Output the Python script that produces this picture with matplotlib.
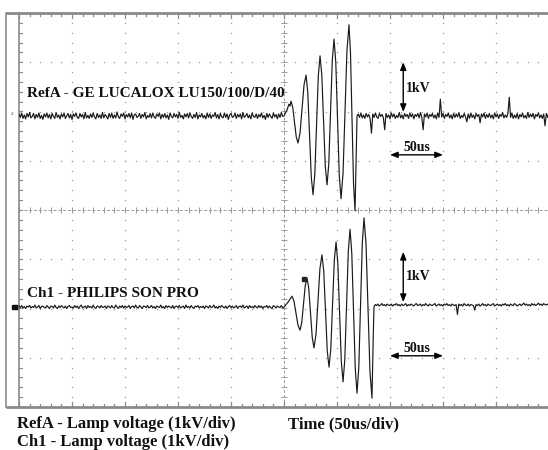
import numpy as np
import matplotlib
matplotlib.use("Agg")
import matplotlib.pyplot as plt

# ---------------- data (time in us relative to trigger, voltage in kV relative to trace baseline)
refA_burst_t = [0, 2.8, 4.7, 5.7, 6.6, 8.25, 9.9, 11.55, 13.2, 15.1, 17.0, 18.9, 20.8,
                22.45, 24.1, 25.75, 27.4, 29.05, 30.7, 32.35, 34.0, 35.65, 37.3, 38.95, 40.6,
                42.25, 43.9, 45.55, 47.2, 48.85, 50.5, 52.15, 53.8, 55.7, 57.55, 59.4, 61.3,
                62.7, 64.15, 65.6, 67.0, 67.6, 68.3, 68.9]
refA_burst_v = [0, 0.12, 0.24, 0.20, 0.30, 0.175, -0.125, -0.425, -0.55, -0.35, 0.14, 0.63,
                0.83, 0.475, -0.385, -1.245, -1.60, -1.19, -0.19, 0.81, 1.22, 0.84, -0.09,
                -1.02, -1.40, -0.97, 0.08, 1.13, 1.56, 1.09, -0.06, -1.21, -1.68, -1.16, 0.085,
                1.33, 1.85, 1.30, -0.04, -1.38, -1.93, -1.30, -0.50, 0]

ch1_burst_t = [0, 3.8, 7.5, 9.4, 11.3, 13.2, 15.1, 16.75, 18.4, 20.05, 21.7, 23.35, 25.0,
               26.65, 28.3, 30.2, 32.05, 33.9, 35.8, 37.5, 39.15, 40.8, 42.5, 44.15, 45.8,
               47.45, 49.1, 50.75, 52.4, 54.05, 55.7, 57.35, 59.0, 60.65, 62.3, 63.95, 65.6,
               67.25, 68.9, 70.55, 72.2, 73.85, 75.5, 77.4, 79.25, 81.1, 83.0, 83.6, 84.3, 84.9]
ch1_burst_v = [0, 0.10, 0.22, 0.12, -0.125, -0.37, -0.47, -0.315, 0.06, 0.435, 0.59, 0.38,
               -0.12, -0.62, -0.83, -0.55, 0.115, 0.78, 1.06, 0.73, -0.08, -0.89, -1.22, -0.85,
               0.05, 0.95, 1.32, 0.90, -0.10, -1.10, -1.52, -1.07, 0.03, 1.13, 1.58, 1.09,
               -0.085, -1.26, -1.75, -1.23, 0.03, 1.29, 1.81, 1.27, -0.02, -1.31, -1.85, -1.20,
               -0.50, 0]

# baseline noise (units of 10 V)
refA_noise_left = [
    4, -3, 6, -5, 2, -6, 5, -2, 7, -4, -1, 5, -6, 3, -3, 6, -5, 1, -7, 4,
    -2, 6, -4, 3, -6, 5, -1, -5, 7, -3, 2, -6, 4, -2, 6, -5, 0, 5, -4, 3,
    -7, 4, -1, 6, -3, -5, 5, -2, 3, -6, 7, -4, 1, -5, 4, -3, 6, -2, -6, 5,
    -3, 2, -5, 7, -4, 3, -1, -6, 5, -3, 6, -5, 2, -4, 8, -2, -5, 4, -1, 6,
    -6, 3, -2, 5, -4, 6, -7, 2, 4, -3, -1, 5, -5, 3, -2, 7, -6, 1, -3, 5,
    -4, 6, -2, -5, 4, -1, 6, -6, 3, -3, 5, -4, 2, -7, 6, -1, -4, 5, -2, 3,
    -5, 7, -3, 1, -6, 4, -2, 5, -4, 6, -1, -5, 3, -3, 7, -6, 2, -2, 5, -4,
    1, -6, 6, -3, 4, -5, 2, -1, 7, -4, 3, -6, 5, -2, -4, 6, -3, 4, -7, 2,
    5, -3, -1, 6, -5, 3, -2, 4, -6, 7, -3, 0, 5, -4, 2, -6, 6, -1, -3, 4,
    -5, 3, -2, 6, -4, 1, -7, 5, -3, 4, -1, -5, 6, -2, 3, -6, 4, -3, 7, -1]
refA_noise_right = [
    4, -3, 6, -4, 2, -5, 5, -2, 3, -6, -35, 4, -3, 6, -2, -5, 5, -1, 3, -4,
    -28, 5, -3, 2, -6, 6, -2, 4, -5, 1, -3, 7, -4, 2, -6, 5, -1, 3, -5, 6,
    -2, 4, -6, 3, -1, 5, -4, 7, -3, -28, 4, -2, 6, -5, 3, -1, 5, -4, 2, -6,
    6, -3, 34, -2, 5, -5, 3, -1, 6, -4, 2, -6, 5, -3, 4, -2, 7, -5, 1, -3,
    5, -2, -12, 4, -5, 6, -3, 2, -6, 5, -1, 3, -14, 4, -2, 6, -5, 3, -3, 5,
    -4, 2, -6, 6, -2, 4, -5, 3, -1, 7, -4, 2, -3, 5, 38, -3, 6, -5, 2, -4,
    5, -6, 3, -2, 6, -4, 1, -5, 7, -3, 4, -2, 5, -6, 3, -1, 6, -4, 2, -5,
    4, -20, 5, -3, 6]
ch1_noise_left = [
    2, -1, 3, -2, 1, -3, 2, 0, 3, -2, 1, -1, 4, -2, 0, 3, -3, 1, 2, -1,
    -2, 3, 0, -3, 2, 1, -2, 4, -1, -3, 2, -1, 3, 0, -2, 2, -3, 1, 3, -1,
    0, -2, 3, -1, 2, -3, 1, 4, -2, 0, 2, -3, 3, -1, 1, -2, 4, -1, -3, 2,
    1, -2, 3, -1, 0, 2, -3, 2, 1, -2, 3, -1, -2, 4, 0, -3, 2, -1, 3, -2,
    2, -1, 0, 3, -3, 1, 2, -2, 4, -1, -2, 3, 0, -3, 2, 1, -1, 3, -2, 0,
    3, -2, 1, -3, 2, 0, -1, 4, -2, 1, -3, 3, -1, 2, 0, -2, 3, -3, 1, 2,
    -1, 3, -2, 0, 2, -3, 4, -1, 1, -2, 3, -1, -3, 2, 0, 3, -2, 1, -1, 2,
    -3, 2, 1, -2, 3, -1, 0, 4, -2, 1, -3, 2, -1, 3, 0, -2, 2, -3, 1, 3,
    -1, 2, -2, 0, 3, -3, 1, 2, -1, 4, -2, 0, 2, -3, 3, -1, 1, -2, 3, 0,
    -2, 3, -1, 2, -3, 1, 0, 3, -2, 2, -1, -3, 3, 1, -2, 2, 0, -1, 3, -2]
ch1_noise_right = [
    5, 3, 6, 2, 4, 7, 3, 5, 2, 6, 4, 3, 6, 2, 5, 4, 7, 3, 5, 2,
    6, 3, 4, 7, 2, 5, 3, 6, 4, 2, 5, 7, 3, 4, 6, 2, 5, 3, 7, 4,
    2, 6, 4, 3, 5, 7, 2, 4, 6, 3, 5, 2, 6, 4, 7, 3, 5, 2, 6, 4,
    3, 5, -15, 6, 3, 5, 2, 7, 4, 3, 6, 2, 5, 4, 3, -6, 5, 3, 6, 2,
    4, 7, 3, 5, 2, 6, 4, 3, 5, 7, 2, 4, 6, 3, 5, 2, 6, 4, 7, 3,
    5, 2, 6, 4, 3, 7, 5, 2, 4, 6, 3, 5, 8, 4, 6, 3, 5, 2, 7, 4,
    6, 3, 5, 8, 4, 6, 3, 7, 5, 4, 6, 3]

trace_labels = ["RefA - GE LUCALOX LU150/100/D/40", "Ch1 - PHILIPS SON PRO"]
footer_lines = ["RefA - Lamp voltage (1kV/div)", "Ch1 - Lamp voltage (1kV/div)"]
time_label = "Time (50us/div)"
volt_scale = "1kV"
time_scale = "50us"

# ---------------- display settings
US_PER_DIV = 50.0
KV_PER_DIV = 1.0
REFA_POS = 1.91
CH1_POS = -1.97
W, H = 548, 450
FONT = "Liberation Serif"
GRID_C = "#9a9a9a"
FRAME_C = "#8a8a8a"
TRACE_C = "#1a1a1a"


def build(noise_left, burst_t, burst_v, noise_right, right_start):
    tl = np.linspace(-250, 0, len(noise_left), endpoint=False)
    tr = np.linspace(right_start, 250, len(noise_right))
    t = np.concatenate([tl, np.asarray(burst_t), tr])
    v = np.concatenate([np.asarray(noise_left) / 100.0, np.asarray(burst_v),
                        np.asarray(noise_right) / 100.0])
    return t, v


fig = plt.figure(figsize=(W / 100, H / 100), dpi=100)
fig.patch.set_facecolor("white")
ax = fig.add_axes([19 / W, (H - 407) / H, 530 / W, 394 / H])
ax.set_xlim(0, 10)
ax.set_ylim(-4, 4)
ax.axis("off")

# dotted graticule
fine_x = np.arange(0, 10.001, 0.2)
fine_y = np.arange(-4, 4.001, 0.2)
for k in range(1, 11):
    if k == 5:
        continue
    ax.plot(np.full_like(fine_y, k), fine_y, ls="none", marker="s", ms=0.9, mew=0,
            color=GRID_C, clip_on=False)
for k in range(-3, 4):
    if k == 0:
        continue
    ax.plot(fine_x, np.full_like(fine_x, k), ls="none", marker="s", ms=0.9, mew=0,
            color=GRID_C, clip_on=False)

# centre lines with minor ticks
ax.plot([0, 10], [0, 0], color=GRID_C, lw=0.7, ls=(0, (3, 2)))
ax.plot([5, 5], [-4, 4], color=GRID_C, lw=0.7, ls=(0, (3, 2)))
ax.plot(fine_x, np.zeros_like(fine_x), ls="none", marker="|", ms=4, mew=0.7, color=GRID_C)
ax.plot(np.full_like(fine_y, 5), fine_y, ls="none", marker="_", ms=4, mew=0.7, color=GRID_C)

# frame
x_outer = -13 / 53
ax.plot([x_outer, 10], [4, 4], color=FRAME_C, lw=2.0, clip_on=False, solid_capstyle="butt")
ax.plot([x_outer, 10], [-4, -4], color=FRAME_C, lw=2.0, clip_on=False, solid_capstyle="butt")
ax.plot([x_outer, x_outer], [-4, 4], color=FRAME_C, lw=1.2, clip_on=False)
ax.plot([0, 0], [-4, 4], color=FRAME_C, lw=1.2, clip_on=False)
for xx in fine_x:
    major = abs(xx - round(xx)) < 1e-6
    L = 0.1 if major else 0.06
    ax.plot([xx, xx], [4, 4 - L], color=FRAME_C, lw=0.9, clip_on=False)
    ax.plot([xx, xx], [-4, -4 + L], color=FRAME_C, lw=0.9, clip_on=False)
for yy in fine_y:
    ax.plot([0, 0.06], [yy, yy], color=FRAME_C, lw=0.8, clip_on=False)

# traces
tA, vA = build(refA_noise_left, refA_burst_t, refA_burst_v, refA_noise_right, 70)
t1, v1 = build(ch1_noise_left, ch1_burst_t, ch1_burst_v, ch1_noise_right, 86)
ax.plot(5 + tA / US_PER_DIV, REFA_POS + vA / KV_PER_DIV, color=TRACE_C, lw=0.85)
ax.plot(5 + t1 / US_PER_DIV, CH1_POS + v1 / KV_PER_DIV, color=TRACE_C, lw=0.85)

# channel markers on the left
ax.text(-0.13, REFA_POS + 0.04, "2", fontsize=3, ha="center", va="center", color="#333",
        clip_on=False)
ax.add_patch(plt.Rectangle((-0.14, CH1_POS - 0.04), 0.12, 0.09, color="#111", clip_on=False))
ax.plot([5 + 19.0 / US_PER_DIV], [CH1_POS + 0.57], ls="none", marker="s", ms=3.2, color="#222")

# scale arrows
arrow = dict(arrowstyle="<|-|>,head_length=0.45,head_width=0.18", color="black", lw=1.0,
             shrinkA=0, shrinkB=0)
ax.annotate("", xy=(7.25, 3.0), xytext=(7.25, 1.99), arrowprops=arrow)
ax.annotate("", xy=(7.25, -0.85), xytext=(7.25, -1.87), arrowprops=arrow)
ax.annotate("", xy=(7.0, 1.12), xytext=(8.0, 1.12), arrowprops=arrow)
ax.annotate("", xy=(7.0, -2.96), xytext=(8.0, -2.96), arrowprops=arrow)

tk = dict(fontfamily=FONT, fontweight="bold", color="#111")
ax.text(7.30, 2.40, volt_scale, fontsize=10, va="baseline", ha="left", **tk)
ax.text(7.30, -1.42, volt_scale, fontsize=10, va="baseline", ha="left", **tk)
ax.text(7.50, 1.20, time_scale, fontsize=10, va="baseline", ha="center", **tk)
ax.text(7.50, -2.88, time_scale, fontsize=10, va="baseline", ha="center", **tk)

ax.text(0.15, 2.29, trace_labels[0], fontsize=11, va="baseline", ha="left", **tk)
ax.text(0.15, -1.77, trace_labels[1], fontsize=11, va="baseline", ha="left", **tk)

fig.text(17 / W, 1 - 428 / H, footer_lines[0], fontsize=12, va="baseline", ha="left", **tk)
fig.text(17 / W, 1 - 446 / H, footer_lines[1], fontsize=12, va="baseline", ha="left", **tk)
fig.text(288 / W, 1 - 428 / H, time_label, fontsize=12, va="baseline", ha="left", **tk)

fig.savefig("out.png", dpi=100, facecolor="white")
